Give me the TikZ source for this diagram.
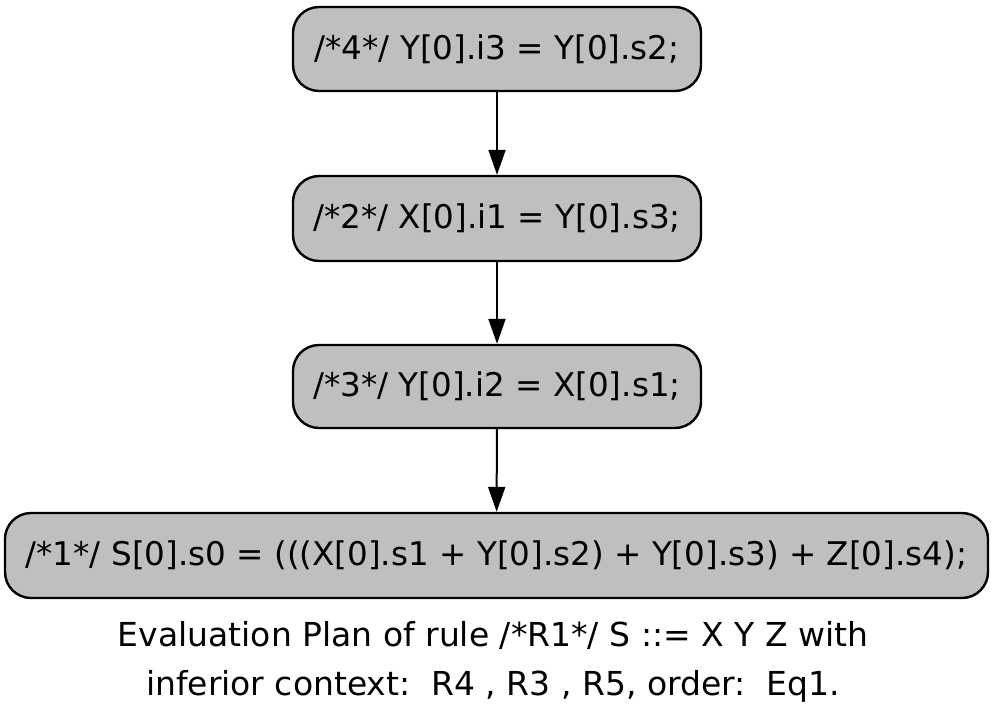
\documentclass[tikz,border=0pt]{standalone}
\usepackage{fontspec}
\setmainfont{DejaVu Sans}
\usetikzlibrary{arrows.meta}
\begin{document}
\begin{tikzpicture}[x=1pt,y=-1pt,
  stmt/.style={draw=black, line width=2.4pt, fill=black!25, rounded corners=26pt,
    inner sep=0pt, font=\fontsize{32.6}{37}\selectfont},
  flow/.style={draw=black, line width=2pt, -{Triangle[length=25pt,width=17pt]}},
  caption/.style={inner sep=0pt, align=center, font=\fontsize{33}{49}\selectfont}]
\useasboundingbox (0,0) rectangle (1000,715);
\node[stmt, minimum width=408pt, minimum height=84pt] (n4) at (497,49) {/*4*/ Y[0].i3 = Y[0].s2;};
\node[stmt, minimum width=408pt, minimum height=85pt] (n2) at (497,218.5) {/*2*/ X[0].i1 = Y[0].s3;};
\node[stmt, minimum width=408pt, minimum height=83pt] (n3) at (497,386.5) {/*3*/ Y[0].i2 = X[0].s1;};
\node[stmt, minimum width=983pt, minimum height=85pt] (n1) at (496.5,555.5) {/*1*/ S[0].s0 = (((X[0].s1 + Y[0].s2) + Y[0].s3) + Z[0].s4);};
\draw[flow] (n4) -- (n2);
\draw[flow] (n2) -- (n3);
\draw[flow] (n3) -- (n1);
\node[caption] (cap) at (493,662) {Evaluation Plan of rule /*R1*/ S ::= X Y Z with\\ inferior context:\ \ R4 , R3 , R5, order:\ \ Eq1.};
\end{tikzpicture}
\end{document}
